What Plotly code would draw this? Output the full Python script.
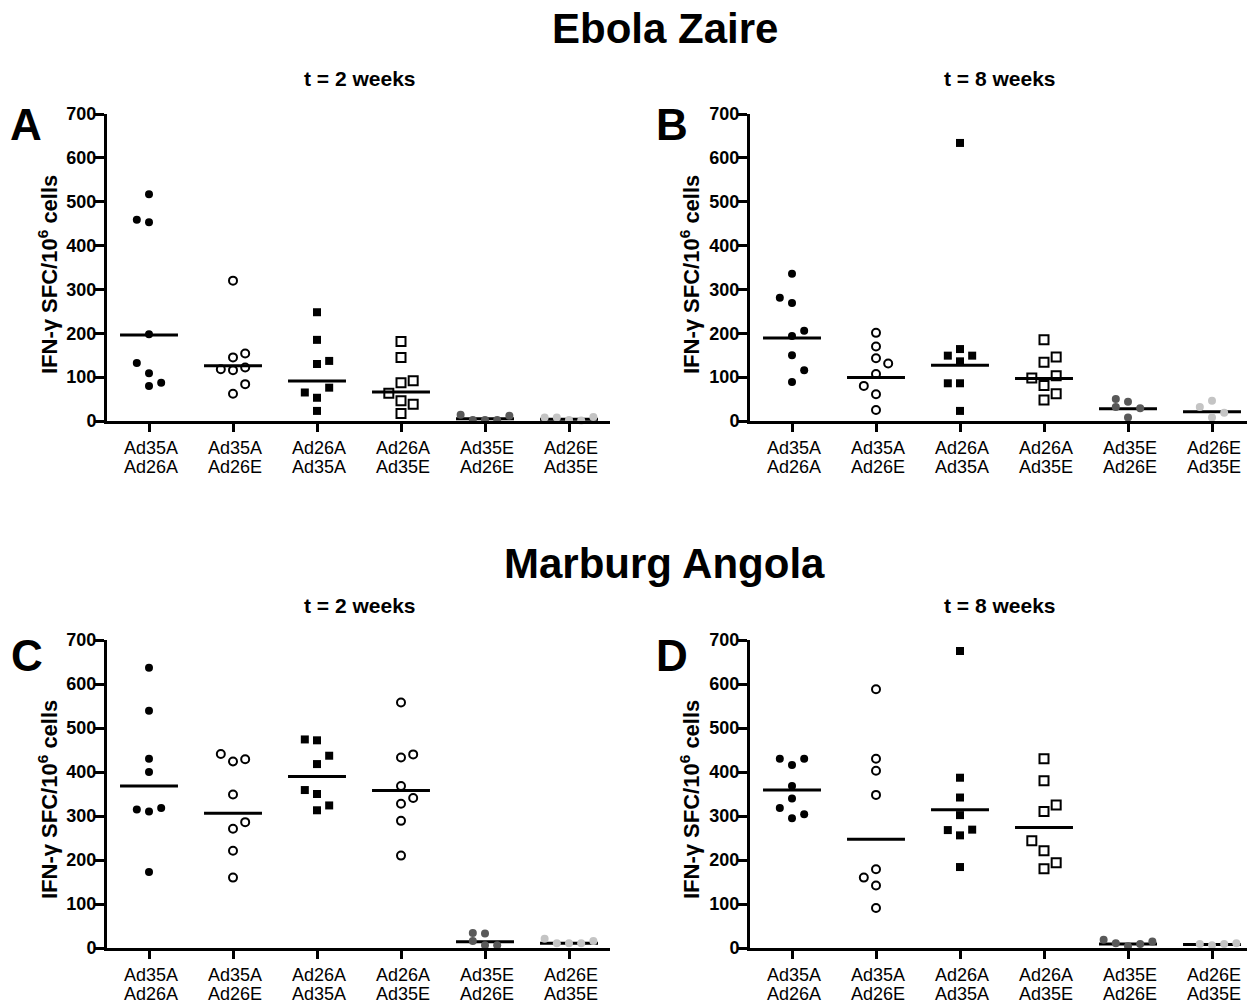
import plotly.graph_objects as go

# ---------------- data ----------------
cat_line1 = ["Ad35A", "Ad35A", "Ad26A", "Ad26A", "Ad35E", "Ad26E"]
cat_line2 = ["Ad26A", "Ad26E", "Ad35A", "Ad35E", "Ad26E", "Ad35E"]
y_ticks = [0, 100, 200, 300, 400, 500, 600, 700]

# Panel A : Ebola Zaire, t = 2 weeks
A_g1 = [517, 459, 453, 198, 132, 109, 80, 87]
A_g2 = [320, 154, 145, 118, 116, 122, 84, 62]
A_g3 = [248, 185, 130, 137, 76, 65, 53, 23]
A_g4 = [181, 145, 87, 92, 63, 46, 38, 17]
A_g5 = [14, 2, 2, 2, 12]
A_g6 = [8, 8, 2, 1, 9]
A_lines = [196, 126, 91, 66, 5, 4]

# Panel B : Ebola Zaire, t = 8 weeks
B_g1 = [336, 281, 269, 206, 194, 150, 116, 89]
B_g2 = [201, 170, 143, 131, 107, 80, 61, 25]
B_g3 = [634, 164, 149, 149, 136, 86, 86, 23]
B_g4 = [185, 146, 134, 98, 103, 81, 62, 48]
B_g5 = [50, 44, 32, 29, 8]
B_g6 = [46, 32, 19, 8]
B_lines = [189, 99, 127, 97, 28, 21]

# Panel C : Marburg Angola, t = 2 weeks
C_g1 = [637, 539, 430, 400, 315, 310, 318, 173]
C_g2 = [441, 424, 429, 349, 286, 271, 221, 160]
C_g3 = [474, 472, 437, 418, 359, 350, 324, 313]
C_g4 = [558, 433, 440, 368, 341, 328, 289, 210]
C_g5 = [34, 33, 16, 6, 6]
C_g6 = [21, 11, 11, 11, 16]
C_lines = [368, 306, 390, 358, 14, 11]

# Panel D : Marburg Angola, t = 8 weeks
D_g1 = [430, 430, 416, 368, 340, 318, 304, 295]
D_g2 = [588, 430, 403, 348, 179, 160, 142, 91]
D_g3 = [675, 387, 342, 302, 268, 269, 256, 184]
D_g4 = [430, 380, 310, 325, 244, 221, 194, 180]
D_g5 = [19, 11, 4, 9, 15]
D_g6 = [9, 6, 9, 11]
D_lines = [359, 247, 314, 274, 9, 8]

# ---------------- layout helpers (horizontal scatter slots, styles) ----------------
A_slots = [[0, -1, 0, 0, -1, 0, 0, 1], [0, 1, 0, -1, 0, 1, 1, 0], [0, 0, 0, 1, 1, -1, 0, 0],
           [0, 0, 0, 1, -1, 0, 1, 0], [-2, -1, 0, 1, 2], [-2, -1, 0, 1, 2]]
B_slots = [[0, -1, 0, 1, 0, 0, 1, 0], [0, 0, 0, 1, 0, -1, 0, 0], [0, 0, -1, 1, 0, -1, 0, 0],
           [0, 1, 0, -1, 1, 0, 1, 0], [-1, 0, -1, 1, 0], [0, -1, 1, 0]]
C_slots = [[0, 0, 0, 0, -1, 0, 1, 0], [-1, 0, 1, 0, 1, 0, 0, 0], [-1, 0, 1, 0, -1, 0, 1, 0],
           [0, 0, 1, 0, 1, 0, 0, 0], [-1, 0, -1, 0, 1], [-2, -1, 0, 1, 2]]
D_slots = [[-1, 1, 0, 0, 0, -1, 1, 0], [0, 0, 0, 0, 0, -1, 0, 0], [0, 0, 0, 0, -1, 1, 0, 0],
           [0, 0, 0, 1, -1, 0, 1, 0], [-2, -1, 0, 1, 2], [-1, 0, 1, 2]]

SLOT_W = 0.145
HALF_LINE = 0.345
FONT = "Liberation Sans, Arial, sans-serif"

DARK = "#595959"
LIGHT = "#c4c4c4"
sty = {
    "fc": dict(symbol="circle", size=8, color="black", line=dict(width=0)),
    "oc": dict(symbol="circle-open", size=8, color="black", line=dict(width=2, color="black")),
    "fs": dict(symbol="square", size=8, color="black", line=dict(width=0)),
    "os": dict(symbol="square-open", size=9, color="black", line=dict(width=2, color="black")),
    "dg": dict(symbol="circle", size=8, color=DARK, line=dict(width=0)),
    "lg": dict(symbol="circle", size=8, color=LIGHT, line=dict(width=0)),
}

panels = [
    dict(groups=[A_g1, A_g2, A_g3, A_g4, A_g5, A_g6], slots=A_slots, lines=A_lines,
         styles=["fc", "oc", "fs", "os", "dg", "lg"], ax="", dx=[107, 610], dy=[114, 421]),
    dict(groups=[B_g1, B_g2, B_g3, B_g4, B_g5, B_g6], slots=B_slots, lines=B_lines,
         styles=["fc", "oc", "fs", "os", "dg", "lg"], ax="2", dx=[750, 1247], dy=[114, 421]),
    dict(groups=[C_g1, C_g2, C_g3, C_g4, C_g5, C_g6], slots=C_slots, lines=C_lines,
         styles=["fc", "oc", "fs", "oc", "dg", "lg"], ax="3", dx=[107, 610], dy=[640, 948]),
    dict(groups=[D_g1, D_g2, D_g3, D_g4, D_g5, D_g6], slots=D_slots, lines=D_lines,
         styles=["fc", "oc", "fs", "os", "dg", "lg"], ax="4", dx=[750, 1247], dy=[640, 948]),
]

W, H = 1247, 1005
SLOT_PX = 84.0  # pixels per category

fig = go.Figure()
layout = dict(width=W, height=H, margin=dict(l=0, r=0, t=0, b=0, autoexpand=False),
              paper_bgcolor="white", plot_bgcolor="white", showlegend=False,
              font=dict(family=FONT, color="black"))

ann = []
def px_ann(text, x, y, size, bold=True, angle=0):
    ann.append(dict(text=("<b>%s</b>" % text) if bold else text, x=x / W, y=1 - y / H,
                    xref="paper", yref="paper", xanchor="center", yanchor="middle",
                    showarrow=False, textangle=angle,
                    font=dict(family=FONT, size=size, color="black")))

for p in panels:
    xa = "x" + p["ax"]
    ya = "y" + p["ax"]
    for i, v in enumerate(p["lines"]):
        c = i + 1
        fig.add_trace(go.Scatter(x=[c - HALF_LINE, c + HALF_LINE], y=[v, v], mode="lines",
                                 line=dict(color="black", width=3), xaxis=xa, yaxis=ya,
                                 hoverinfo="skip", cliponaxis=False))
    for i, (vals, sl, st) in enumerate(zip(p["groups"], p["slots"], p["styles"])):
        c = i + 1
        fig.add_trace(go.Scatter(x=[c + s * SLOT_W for s in sl], y=vals, mode="markers",
                                 marker=sty[st], xaxis=xa, yaxis=ya, cliponaxis=False))
    x0, x1 = p["dx"]
    y0, y1 = p["dy"]
    xr_hi = 0.5 + (x1 - x0) / SLOT_PX
    key = p["ax"]
    layout["xaxis" + key] = dict(
        domain=[x0 / W, x1 / W], range=[0.5, xr_hi], anchor=ya, automargin=False,
        tickvals=[1, 2, 3, 4, 5, 6], showticklabels=False,
        showline=True, linewidth=3, linecolor="black", ticks="outside",
        ticklen=8, tickwidth=3, tickcolor="black", showgrid=False, zeroline=False,
        fixedrange=True)
    layout["yaxis" + key] = dict(
        domain=[1 - y1 / H, 1 - y0 / H], range=[0, 700], anchor=xa, automargin=False,
        tickvals=y_ticks, showline=True, linewidth=3, linecolor="black",
        ticks="outside", ticklen=9, tickwidth=3, tickcolor="black",
        showgrid=False, zeroline=False,
        tickfont=dict(family=FONT, size=18, color="black", weight="bold"),
        ticklabelstandoff=-5, fixedrange=True)
    # two-line category labels under each tick
    for i in range(6):
        for txt, off in ((cat_line1[i], 27), (cat_line2[i], 46)):
            ann.append(dict(text=txt, x=i + 1, xref=xa, xshift=2, y=1 - (y1 + off) / H,
                            yref="paper", xanchor="center", yanchor="middle", showarrow=False,
                            font=dict(family=FONT, size=18, color="black")))

px_ann("Ebola Zaire", 665, 28, 42)
px_ann("Marburg Angola", 664, 563, 42)
px_ann("t = 2 weeks", 360, 78, 21)
px_ann("t = 8 weeks", 1000, 78, 21)
px_ann("t = 2 weeks", 360, 605, 21)
px_ann("t = 8 weeks", 1000, 605, 21)
px_ann("A", 26, 125, 44)
px_ann("B", 672, 125, 44)
px_ann("C", 27, 655, 44)
px_ann("D", 672, 655, 44)
ytitle = "IFN-γ SFC/10<sup>6</sup> cells"
px_ann(ytitle, 48, 275, 22, angle=-90)
px_ann(ytitle, 690, 275, 22, angle=-90)
px_ann(ytitle, 48, 800, 22, angle=-90)
px_ann(ytitle, 690, 800, 22, angle=-90)
layout["annotations"] = ann

fig.update_layout(**layout)
fig.write_html("out.html", config={"displayModeBar": False},
               post_script="document.body.style.margin='0px';document.body.style.overflow='hidden';")
